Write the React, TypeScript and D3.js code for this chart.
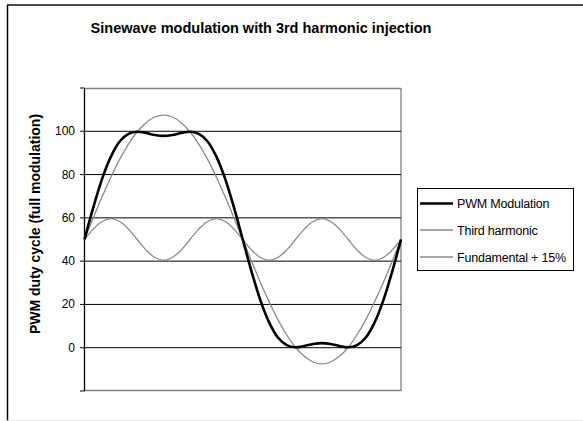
import React from "react";
import * as d3 from "d3";

const angles = [0,10,20,30,40,50,60,70,80,90,100,110,120,130,140,150,160,170,180,190,200,210,220,230,240,250,260,270,280,290,300,310,320,330,340,350,360];
const pwmModulation = [50,64.8,78.0,88.3,95.3,98.8,99.8,99.2,98.3,97.9,98.3,99.2,99.8,98.8,95.3,88.3,78.0,64.8,50,35.2,22.0,11.7,4.7,1.2,0.2,0.8,1.7,2.1,1.7,0.8,0.2,1.2,4.7,11.7,22.0,35.2,50];
const thirdHarmonic = [50,54.8,58.3,59.6,58.3,54.8,50,45.2,41.7,40.4,41.7,45.2,50,54.8,58.3,59.6,58.3,54.8,50,45.2,41.7,40.4,41.7,45.2,50,54.8,58.3,59.6,58.3,54.8,50,45.2,41.7,40.4,41.7,45.2,50];
const fundamental15 = [50,60.0,69.7,78.8,87.0,94.1,99.8,104.0,106.6,107.5,106.6,104.0,99.8,94.1,87.0,78.8,69.7,60.0,50,40.0,30.3,21.3,13.0,6.0,0.2,-4.0,-6.6,-7.5,-6.6,-4.0,0.2,6.0,13.0,21.3,30.3,40.0,50];
const yTicks = [-20,0,20,40,60,80,100,120];
const yLabels = [0,20,40,60,80,100];
const seriesNames = ["PWM Modulation","Third harmonic","Fundamental + 15%"];

const FONT = "Arial, 'Liberation Sans', sans-serif";

export default function App() {
  const left = 84.5, right = 401, top = 88, bottom = 391;
  const x = d3.scaleLinear().domain([0, 360]).range([left, right]);
  const y = d3.scaleLinear().domain([-20, 120]).range([bottom, top]);
  const line = (vals: number[]) =>
    d3.line<number>().x((_, i) => x(angles[i])).y((v) => y(v)).curve(d3.curveCatmullRom)(vals) || "";

  const series = [
    { name: seriesNames[0], vals: pwmModulation, color: "#000", w: 2.6 },
    { name: seriesNames[1], vals: thirdHarmonic, color: "#8a8a8a", w: 1.3 },
    { name: seriesNames[2], vals: fundamental15, color: "#8a8a8a", w: 1.3 },
  ];
  const legendRows = [203.5, 230, 257];

  return (
    <svg width={583} height={421} style={{ position: "absolute", left: 0, top: 0, background: "#fff" }}>
      <line x1={7.5} y1={5} x2={7.5} y2={421} stroke="#000" strokeWidth={1.5} />
      <line x1={7} y1={5} x2={583} y2={5} stroke="#111" strokeWidth={1.5} />
      <line x1={7} y1={420.5} x2={583} y2={420.5} stroke="#e4e4e4" strokeWidth={1} />
      <text x={261} y={33} textAnchor="middle" fontFamily={FONT} fontWeight="bold" fontSize={14.5}>
        Sinewave modulation with 3rd harmonic injection
      </text>
      {/* plot border */}
      <line x1={left} y1={top + 0.5} x2={right} y2={top + 0.5} stroke="#808080" strokeWidth={1.3} />
      <line x1={right} y1={top} x2={right} y2={bottom} stroke="#808080" strokeWidth={1.3} />
      <line x1={left} y1={bottom - 0.5} x2={right} y2={bottom - 0.5} stroke="#808080" strokeWidth={1.3} />
      {yLabels.map((t) => (
        <line key={"g" + t} x1={left} x2={right} y1={y(t)} y2={y(t)} stroke="#000" strokeWidth={1} />
      ))}
      {yTicks.map((t) => (
        <line key={"t" + t} x1={80} x2={left} y1={y(t)} y2={y(t)} stroke="#000" strokeWidth={1} />
      ))}
      <line x1={left} x2={left} y1={top} y2={bottom} stroke="#000" strokeWidth={1.3} />
      {yLabels.map((t) => (
        <text key={"l" + t} x={75} y={y(t) + 4} textAnchor="end" fontFamily={FONT} fontSize={12}>
          {t}
        </text>
      ))}
      <text transform={`translate(40,224) rotate(-90)`} textAnchor="middle" fontFamily={FONT} fontWeight="bold" fontSize={14}>
        PWM duty cycle (full modulation)
      </text>
      {[...series].reverse().map((s) => (
        <path key={s.name} d={line(s.vals)} fill="none" stroke={s.color} strokeWidth={s.w} strokeLinejoin="round" />
      ))}
      <rect x={417.5} y={188.5} width={156} height={82} fill="#fff" stroke="#000" strokeWidth={1} />
      {series.map((s, i) => (
        <g key={"lg" + i}>
          <line x1={420} x2={453} y1={legendRows[i]} y2={legendRows[i]} stroke={s.color} strokeWidth={s.w} />
          <text x={457} y={legendRows[i] + 4.5} fontFamily={FONT} fontSize={12.5} letterSpacing={-0.2}>
            {s.name}
          </text>
        </g>
      ))}
    </svg>
  );
}
